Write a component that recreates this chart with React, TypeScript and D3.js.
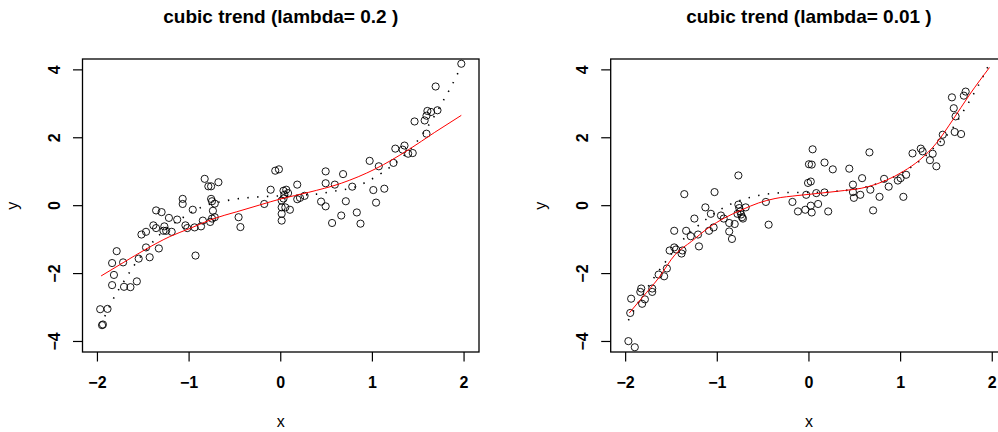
import React from "react";
import * as d3 from "d3";

const width = 998;
const height = 432;

// tick labels
const xTicks = [-2, -1, 0, 1, 2];
const yTicks = [-4, -2, 0, 2, 4];

// left panel: observations
const obs1X = [-0.83, -0.79, -0.76, -0.68, -1.07, -1.07, -0.76, -0.75, -0.72, -0.74, -0.06, -0.02, -0.11, 0.03, 0.01,
    1.97, 1.69, 1.6, 1.64, 1.71, 1.59, 1.46, 1.57, 1.59, 1.25, 1.35, 1.33, 1.39, 1.44, 0.97, 1.07, 1.23, 0.49, 0.68,
    0.49, 0.59, 0.18, 0.78, 0.06, 0.08, 0.04, 1.01, 1.13, 0.26, 0.21, 0.18, 0.03, 0.44, 0.49, 0.71, 1.04, 0.05, 0.1,
    0.01, 0.01, 0.56, 0.66, 0.83, 0.87, -0.96, -1.36, -1.3, -1.22, -1.13, -1.39, -1.36, -1.27, -1.25, -1.28, -1.19,
    -1.04, -1.02, -0.94, -0.87, -0.85, -0.77, -0.75, -0.72, -0.46, -0.44, -0.18, 0.01, -1.52, -1.47, -1.47, -1.33,
    -1.43, -1.55, -1.79, -1.84, -1.72, -1.82, -1.84, -1.71, -1.64, -1.57, -0.93, -1.97, -1.89, -1.95, -1.94];
const obs1Y = [0.79, 0.57, 0.57, 0.69, 0.2, 0.05, 0.2, 0.13, 0.06, -0.15, 1.03, 1.07, 0.47, 0.44, 0.15,
    4.18, 3.51, 2.79, 2.76, 2.81, 2.65, 2.48, 2.51, 2.12, 1.68, 1.77, 1.65, 1.53, 1.55, 1.32, 1.16, 1.26, 1.01, 0.93,
    0.66, 0.62, 0.62, 0.56, 0.47, 0.37, 0.32, 0.46, 0.5, 0.29, 0.23, 0.19, 0.21, 0.12, -0.02, 0.13, 0.09, -0.05, -0.12,
    -0.24, -0.44, -0.51, -0.29, -0.2, -0.53, -0.12, -0.14, -0.19, -0.36, -0.41, -0.58, -0.66, -0.61, -0.74, -0.74, -0.77,
    -0.58, -0.66, -0.64, -0.61, -0.44, -0.48, -0.38, -0.34, -0.34, -0.63, 0.05, -0.05, -0.85, -0.77, -1.23, -1.26,
    -1.52, -1.56, -1.34, -1.69, -1.67, -2.04, -2.34, -2.39, -2.4, -2.23, -1.47, -3.05, -3.04, -3.52, -3.5];

// left panel: fitted trend (red) and dotted curve
const fit1X = [-1.96, -1.72, -1.47, -1.21, -0.99, -0.74, -0.48, -0.23, 0.0, 0.3, 0.66, 1.03, 1.39, 1.68, 1.97];
const fit1Y = [-2.07, -1.68, -1.28, -0.91, -0.67, -0.39, -0.18, 0.02, 0.2, 0.39, 0.66, 1.08, 1.64, 2.16, 2.66];
const dot1X = [-1.92, -1.84, -1.7, -1.6, -1.48, -1.38, -1.3, -1.1, -0.99, -0.87, -0.59, -0.34, -0.16, 0.1, 0.39,
    0.57, 0.83, 0.92, 1.1, 1.19, 1.48, 1.55, 1.64, 1.77, 1.86, 1.95];
const dot1Y = [-3.26, -2.81, -2.18, -1.76, -1.34, -1.02, -0.8, -0.41, -0.22, -0.05, 0.15, 0.24, 0.27, 0.3, 0.34,
    0.42, 0.57, 0.68, 0.96, 1.13, 1.87, 2.12, 2.48, 3.08, 3.51, 4.0];

// right panel: observations
const obs2X = [-1.36, -1.03, -0.77, -0.47, -0.18, 0.04, 0.0, 0.03, -0.01, 0.02, -0.03, 0.08, 0.17, 0.17, 0.26, 0.44,
    0.66, 0.58, 0.48, 0.48, 0.56, 0.49, 0.67, 0.77, 0.82, 0.87, 0.97, 1.0, 1.06, 1.03, 1.13, 1.22, 1.24, 1.35, 1.32,
    1.39, 1.44, 1.46, 1.59, 1.66, 1.6, 1.58, 1.56, 1.69, 1.71, -0.04, 0.02, 0.03, 0.1, 0.21, 0.7, -1.13, -1.07, -1.25,
    -1.34, -1.29, -1.21, -1.47, -1.2, -1.09, -1.04, -0.96, -0.93, -0.87, -0.81, -0.87, -0.84, -0.77, -0.76, -0.75,
    -0.74, -0.73, -0.72, -0.78, -0.69, -0.44, -0.12, -1.52, -1.47, -1.45, -1.38, -1.39, -1.55, -1.58, -1.64, -1.83,
    -1.84, -1.71, -1.71, -1.79, -1.82, -1.94, -1.95, -1.97, -1.9];
const obs2Y = [0.34, 0.4, 0.89, 0.11, 0.11, 1.66, 1.22, 1.21, 0.67, 0.71, 0.32, 0.37, 0.39, 1.27, 1.07, 1.09,
    1.57, 0.81, 0.62, 0.4, 0.32, 0.23, 0.47, 0.26, 0.79, 0.56, 0.74, 0.81, 0.91, 0.26, 1.54, 1.68, 1.6, 1.53, 1.34,
    1.16, 1.87, 2.09, 2.17, 2.11, 2.63, 2.87, 3.19, 3.24, 3.36, -0.12, 0.0, -0.2, 0.05, -0.17, -0.14, -0.05, -0.24, -0.38,
    -0.74, -0.9, -0.85, -0.74, -1.2, -0.74, -0.64, -0.29, -0.38, -0.51, -0.54, -0.76, -0.98, 0.03, -0.07, -0.17,
    -0.26, -0.34, -0.38, -0.24, -0.05, -0.56, -0.17, -1.32, -1.23, -1.29, -1.32, -1.41, -1.85, -2.08, -2.03, -2.44,
    -2.54, -2.44, -2.54, -2.76, -2.89, -2.74, -3.16, -3.99, -4.17];

// right panel: fitted trend (red) and dotted curve
const fit2X = [-1.96, -1.82, -1.64, -1.46, -1.28, -1.1, -0.92, -0.73, -0.55, -0.37, -0.12, 0.3, 0.66, 1.03, 1.21,
    1.39, 1.57, 1.75, 1.97];
const fit2Y = [-3.16, -2.71, -2.13, -1.44, -1.05, -0.66, -0.36, -0.12, 0.08, 0.21, 0.3, 0.42, 0.57, 1.01, 1.35,
    1.84, 2.53, 3.26, 4.07];
const dot2X = [-1.97, -1.84, -1.71, -1.55, -1.39, -1.24, -1.1, -0.97, -0.85, -0.7, -0.55, -0.4, -0.2, 0.0, 0.2, 0.4,
    0.6, 0.8, 1.0, 1.2, 1.4, 1.55, 1.7, 1.85, 1.95];
const dot2Y = [-3.38, -2.75, -2.2, -1.6, -1.05, -0.66, -0.36, -0.12, 0.05, 0.2, 0.3, 0.36, 0.39, 0.39, 0.41, 0.45,
    0.54, 0.7, 0.95, 1.3, 1.8, 2.22, 2.85, 3.55, 4.08];

const font = "'Liberation Sans', Arial, Helvetica, sans-serif";
const boxW = 396.5;
const boxTop = 59;
const boxBottom = 352;

type PanelProps = {
    left: number;
    title: string;
    ox: number[]; oy: number[];
    fx: number[]; fy: number[];
    dx: number[]; dy: number[];
};

function Panel({left, title, ox, oy, fx, fy, dx, dy}: PanelProps) {
    const x = d3.scaleLinear().domain([-2.163, 2.163]).range([left, left + boxW]);
    const y = d3.scaleLinear().domain([-4.31, 4.32]).range([boxBottom, boxTop]);

    const line = d3.line<[number, number]>()
        .x(d => x(d[0]))
        .y(d => y(d[1]))
        .curve(d3.curveMonotoneX);

    const fitPts = fx.map((v, i) => [v, fy[i]] as [number, number]);
    const dotPts = dx.map((v, i) => [v, dy[i]] as [number, number]);
    const cx = left + boxW / 2;
    const minus = (v: number) => (v < 0 ? "\u2212" + Math.abs(v) : String(v));

    return (
        <g>
            <text x={cx} y={23} textAnchor="middle" fontWeight="bold" fontSize={19} fontFamily={font}>{title}</text>
            <rect x={left} y={boxTop} width={boxW} height={boxBottom - boxTop} fill="none" stroke="#000" strokeWidth={1.3}/>

            {xTicks.map(t => (
                <g key={"x" + t}>
                    <line x1={x(t)} x2={x(t)} y1={boxBottom} y2={boxBottom + 9.5} stroke="#000" strokeWidth={1.2}/>
                    <text x={x(t)} y={388} textAnchor="middle" fontSize={16} fontWeight="bold" fontFamily={font}>{minus(t)}</text>
                </g>
            ))}
            {yTicks.map(t => (
                <g key={"y" + t}>
                    <line x1={left - 9.5} x2={left} y1={y(t)} y2={y(t)} stroke="#000" strokeWidth={1.2}/>
                    <text transform={`translate(${left - 23},${y(t)}) rotate(-90)`} textAnchor="middle" fontSize={16}
                          fontWeight="bold" fontFamily={font}>{minus(t)}</text>
                </g>
            ))}
            <text x={cx} y={427} textAnchor="middle" fontSize={16} fontFamily={font}>x</text>
            <text transform={`translate(${left - 65},${y(0)}) rotate(-90)`} textAnchor="middle" fontSize={16}
                  fontFamily={font}>y</text>

            <path d={line(dotPts) ?? ""} fill="none" stroke="#000" strokeWidth={1.6} strokeDasharray="1.4 8.4"/>
            {ox.map((v, i) => (
                <circle key={i} cx={x(v)} cy={y(oy[i])} r={3.6} fill="none" stroke="#000" strokeWidth={0.9}/>
            ))}
            <path d={line(fitPts) ?? ""} fill="none" stroke="#ff0000" strokeWidth={1}/>
        </g>
    );
}

export default function App() {
    return (
        <svg width={width} height={height} style={{position: "absolute", left: 0, top: 0, background: "#fff"}}>
            <rect width={width} height={height} fill="#fff"/>
            <Panel left={82.5} title="cubic trend (lambda= 0.2 )" ox={obs1X} oy={obs1Y} fx={fit1X} fy={fit1Y}
                   dx={dot1X} dy={dot1Y}/>
            <Panel left={610.7} title="cubic trend (lambda= 0.01 )" ox={obs2X} oy={obs2Y} fx={fit2X} fy={fit2Y}
                   dx={dot2X} dy={dot2Y}/>
        </svg>
    );
}
